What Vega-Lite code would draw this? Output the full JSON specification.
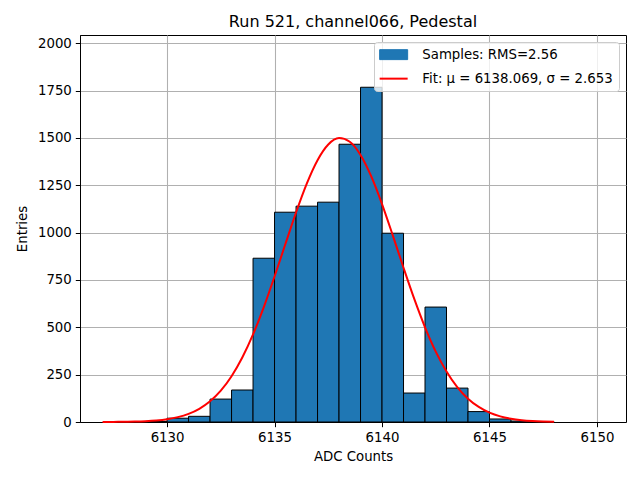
{
  "$schema": "https://vega.github.io/schema/vega-lite/v6.json",
  "autosize": {"type": "none"},
  "padding": {"left": 80, "top": 35, "right": 14, "bottom": 58},
  "width": 546,
  "height": 387,
  "title": {
    "text": "Run 521, channel066, Pedestal",
    "fontSize": 16,
    "fontWeight": "normal",
    "color": "black",
    "offset": 5
  },
  "datasets": {
    "bins": [
      {"bin_start": 6129, "bin_end": 6130, "count": 3},
      {"bin_start": 6130, "bin_end": 6131, "count": 20},
      {"bin_start": 6131, "bin_end": 6132, "count": 30},
      {"bin_start": 6132, "bin_end": 6133, "count": 121},
      {"bin_start": 6133, "bin_end": 6134, "count": 169},
      {"bin_start": 6134, "bin_end": 6135, "count": 865},
      {"bin_start": 6135, "bin_end": 6136, "count": 1108},
      {"bin_start": 6136, "bin_end": 6137, "count": 1140},
      {"bin_start": 6137, "bin_end": 6138, "count": 1161},
      {"bin_start": 6138, "bin_end": 6139, "count": 1467},
      {"bin_start": 6139, "bin_end": 6140, "count": 1768},
      {"bin_start": 6140, "bin_end": 6141, "count": 997},
      {"bin_start": 6141, "bin_end": 6142, "count": 153},
      {"bin_start": 6142, "bin_end": 6143, "count": 607},
      {"bin_start": 6143, "bin_end": 6144, "count": 179},
      {"bin_start": 6144, "bin_end": 6145, "count": 55},
      {"bin_start": 6145, "bin_end": 6146, "count": 16},
      {"bin_start": 6146, "bin_end": 6147, "count": 5},
      {"bin_start": 6147, "bin_end": 6148, "count": 2}
    ],
    "fit": [
      {"adc": 6127, "entries": 0.25},
      {"adc": 6127.5, "entries": 0.54},
      {"adc": 6128, "entries": 1.12},
      {"adc": 6128.5, "entries": 2.25},
      {"adc": 6129, "entries": 4.35},
      {"adc": 6129.5, "entries": 8.15},
      {"adc": 6130, "entries": 14.7},
      {"adc": 6130.5, "entries": 25.6},
      {"adc": 6131, "entries": 43.1},
      {"adc": 6131.5, "entries": 69.9},
      {"adc": 6132, "entries": 109.6},
      {"adc": 6132.5, "entries": 165.6},
      {"adc": 6133, "entries": 241.8},
      {"adc": 6133.5, "entries": 340.5},
      {"adc": 6134, "entries": 462.6},
      {"adc": 6134.5, "entries": 606.9},
      {"adc": 6135, "entries": 768.3},
      {"adc": 6135.5, "entries": 938.6},
      {"adc": 6136, "entries": 1106.7},
      {"adc": 6136.5, "entries": 1259.3},
      {"adc": 6137, "entries": 1383.0},
      {"adc": 6137.5, "entries": 1466.0},
      {"adc": 6138, "entries": 1499.5},
      {"adc": 6138.5, "entries": 1480.3},
      {"adc": 6139, "entries": 1410.4},
      {"adc": 6139.5, "entries": 1296.9},
      {"adc": 6140, "entries": 1151.0},
      {"adc": 6140.5, "entries": 985.8},
      {"adc": 6141, "entries": 814.8},
      {"adc": 6141.5, "entries": 650.0},
      {"adc": 6142, "entries": 500.4},
      {"adc": 6142.5, "entries": 371.8},
      {"adc": 6143, "entries": 266.7},
      {"adc": 6143.5, "entries": 184.5},
      {"adc": 6144, "entries": 123.3},
      {"adc": 6144.5, "entries": 79.5},
      {"adc": 6145, "entries": 49.4},
      {"adc": 6145.5, "entries": 29.7},
      {"adc": 6146, "entries": 17.2},
      {"adc": 6146.5, "entries": 9.6},
      {"adc": 6147, "entries": 5.2},
      {"adc": 6147.5, "entries": 2.7},
      {"adc": 6148, "entries": 1.36}
    ]
  },
  "layer": [
    {
      "data": {"name": "bins"},
      "mark": {"type": "bar", "stroke": "black", "strokeWidth": 1},
      "encoding": {
        "x": {
          "field": "bin_start",
          "type": "quantitative",
          "title": "ADC Counts",
          "scale": {"domain": [6125.95, 6151.35], "nice": false, "zero": false},
          "axis": {"values": [6130, 6135, 6140, 6145, 6150], "format": "d"}
        },
        "x2": {"field": "bin_end"},
        "y": {
          "field": "count",
          "type": "quantitative",
          "title": "Entries",
          "scale": {"domain": [0, 2044], "nice": false},
          "axis": {"values": [0, 250, 500, 750, 1000, 1250, 1500, 1750, 2000], "format": "d"}
        },
        "y2": {"datum": 0},
        "color": {
          "datum": "Samples: RMS=2.56",
          "type": "nominal",
          "scale": {
            "domain": ["Samples: RMS=2.56", "Fit: μ = 6138.069, σ = 2.653"],
            "range": ["#1f77b4", "#ff0000"]
          },
          "legend": {
            "title": null,
            "orient": "top-right",
            "offset": 7,
            "padding": 6,
            "fillColor": "rgba(255,255,255,0.8)",
            "strokeColor": "#cccccc",
            "cornerRadius": 3,
            "labelFontSize": 13.3,
            "labelColor": "black",
            "labelLimit": 300,
            "labelOffset": 29,
            "symbolSize": 196,
            "rowPadding": 9,
            "encode": {
              "symbols": {
                "update": {
                  "shape": {"signal": "datum.index == 0 ? 'M-1,-0.71H3V0.71H-1Z' : 'M-1,0H3'"},
                  "fill": {"signal": "datum.index == 0 ? '#1f77b4' : 'transparent'"},
                  "stroke": {"signal": "datum.index == 0 ? 'black' : '#ff0000'"},
                  "strokeWidth": {"signal": "datum.index == 0 ? 1 : 2"},
                  "opacity": {"value": 1}
                }
              }
            }
          }
        }
      }
    },
    {
      "data": {"name": "fit"},
      "mark": {"type": "line", "strokeWidth": 2, "interpolate": "monotone"},
      "encoding": {
        "x": {"field": "adc", "type": "quantitative"},
        "y": {"field": "entries", "type": "quantitative"},
        "color": {
          "datum": "Fit: μ = 6138.069, σ = 2.653",
          "type": "nominal",
          "legend": {
            "title": null,
            "orient": "top-right",
            "offset": 7,
            "padding": 6,
            "fillColor": "rgba(255,255,255,0.8)",
            "strokeColor": "#cccccc",
            "cornerRadius": 3,
            "labelFontSize": 13.3,
            "labelColor": "black",
            "labelLimit": 300,
            "labelOffset": 29,
            "symbolSize": 196,
            "rowPadding": 9,
            "encode": {
              "symbols": {
                "update": {
                  "shape": {"signal": "datum.index == 0 ? 'M-1,-0.71H3V0.71H-1Z' : 'M-1,0H3'"},
                  "fill": {"signal": "datum.index == 0 ? '#1f77b4' : 'transparent'"},
                  "stroke": {"signal": "datum.index == 0 ? 'black' : '#ff0000'"},
                  "strokeWidth": {"signal": "datum.index == 0 ? 1 : 2"},
                  "opacity": {"value": 1}
                }
              }
            }
          }
        }
      }
    }
  ],
  "config": {
    "font": "DejaVu Sans",
    "view": {"stroke": "black", "strokeWidth": 1},
    "bar": {"opacity": 1},
    "axis": {
      "zindex": 1,
      "domainColor": "black",
      "tickColor": "black",
      "tickSize": 4.7,
      "labelPadding": 4,
      "labelFontSize": 13.3,
      "labelColor": "black",
      "titleFontSize": 13.3,
      "titleFontWeight": "normal",
      "titleColor": "black",
      "gridColor": "#b0b0b0",
      "gridWidth": 1.07,
      "gridOpacity": 1
    },
    "axisX": {"titlePadding": 5, "labelFlush": false},
    "axisY": {"titlePadding": 8, "labelFlush": false}
  }
}
